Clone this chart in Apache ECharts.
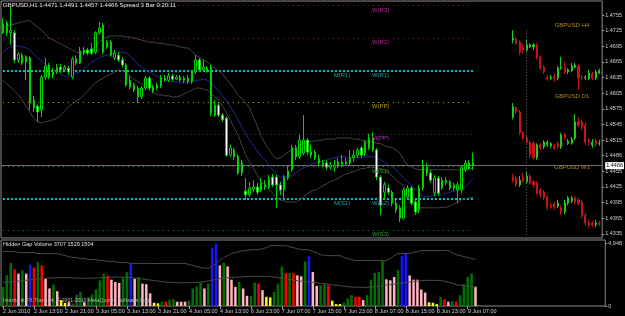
<!DOCTYPE html>
<html><head><meta charset="utf-8">
<script src="https://cdn.jsdelivr.net/npm/echarts@6/dist/echarts.min.js"></script>
<style>html,body{margin:0;padding:0;background:#000;}#c{width:625px;height:316px;}</style>
</head><body><div id="c"></div>
<script>
const symbol = 'GBPUSD';
const tickLabels = ['2 Jun 2010','2 Jun 13:00','2 Jun 21:00','3 Jun 05:00','3 Jun 13:00','3 Jun 21:00','4 Jun 05:00','4 Jun 13:00','6 Jun 23:00','7 Jun 07:00','7 Jun 15:00','7 Jun 23:00','8 Jun 07:00','8 Jun 15:00','8 Jun 23:00','9 Jun 07:00'];
const priceTicks = [1.4755,1.4725,1.4695,1.4665,1.4635,1.4605,1.4575,1.4545,1.4515,1.4486,1.4455,1.4425,1.4395,1.4365,1.4335];
const volumeTicks = [0, 4948];

const open = [1.4738,1.4740,1.4721,1.4721,1.4669,1.4678,1.4665,1.4673,1.4592,1.4580,
1.4573,1.4636,1.4659,1.4640,1.4646,1.4655,1.4650,1.4653,1.4636,1.4671,
1.4663,1.4682,1.4688,1.4690,1.4684,1.4721,1.4736,1.4694,1.4703,1.4673,
1.4678,1.4669,1.4659,1.4630,1.4621,1.4615,1.4598,1.4615,1.4634,1.4617,
1.4615,1.4619,1.4634,1.4630,1.4638,1.4632,1.4636,1.4630,1.4634,1.4627,
1.4646,1.4669,1.4650,1.4648,1.4655,1.4563,1.4582,1.4563,1.4557,1.4486,
1.4496,1.4484,1.4452,1.4417,1.4410,1.4421,1.4425,1.4419,1.4429,1.4425,
1.4444,1.4444,1.4429,1.4419,1.4442,1.4458,1.4500,1.4483,1.4490,1.4515,
1.4492,1.4492,1.4479,1.4467,1.4471,1.4463,1.4463,1.4467,1.4473,1.4473,
1.4471,1.4481,1.4486,1.4500,1.4490,1.4500,1.4519,1.4496,1.4444,1.4415,
1.4423,1.4415,1.4394,1.4385,1.4365,1.4406,1.4423,1.4396,1.4381,1.4423,
1.4463,1.4452,1.4413,1.4442,1.4423,1.4433,1.4435,1.4429,1.4419,1.4419,
1.4458,1.4461,1.4471];
const close = [1.4721,1.4721,1.4726,1.4669,1.4680,1.4663,1.4675,1.4586,1.4577,1.4569,
1.4636,1.4657,1.4636,1.4646,1.4655,1.4650,1.4655,1.4646,1.4671,1.4663,
1.4686,1.4688,1.4682,1.4682,1.4721,1.4730,1.4684,1.4703,1.4678,1.4682,
1.4669,1.4659,1.4621,1.4617,1.4611,1.4598,1.4615,1.4634,1.4615,1.4609,
1.4621,1.4634,1.4630,1.4638,1.4632,1.4636,1.4630,1.4634,1.4627,1.4646,
1.4669,1.4650,1.4655,1.4653,1.4567,1.4582,1.4563,1.4554,1.4486,1.4500,
1.4483,1.4452,1.4471,1.4410,1.4423,1.4425,1.4415,1.4433,1.4425,1.4442,
1.4429,1.4429,1.4419,1.4444,1.4456,1.4500,1.4483,1.4515,1.4515,1.4492,
1.4486,1.4481,1.4471,1.4471,1.4463,1.4467,1.4467,1.4473,1.4469,1.4469,
1.4481,1.4486,1.4496,1.4486,1.4511,1.4519,1.4496,1.4444,1.4390,1.4429,
1.4415,1.4394,1.4381,1.4365,1.4419,1.4423,1.4394,1.4377,1.4423,1.4467,
1.4452,1.4438,1.4442,1.4413,1.4438,1.4438,1.4423,1.4423,1.4429,1.4463,
1.4471,1.4471,1.4466];
const low = [1.4719,1.4715,1.4698,1.4663,1.4663,1.4659,1.4630,1.4573,1.4569,1.4550,
1.4559,1.4630,1.4632,1.4634,1.4642,1.4644,1.4646,1.4640,1.4632,1.4659,
1.4661,1.4678,1.4678,1.4678,1.4680,1.4717,1.4680,1.4690,1.4675,1.4669,
1.4665,1.4655,1.4617,1.4613,1.4607,1.4586,1.4594,1.4611,1.4611,1.4605,
1.4611,1.4615,1.4627,1.4627,1.4628,1.4630,1.4627,1.4625,1.4623,1.4623,
1.4642,1.4646,1.4646,1.4644,1.4561,1.4559,1.4559,1.4550,1.4483,1.4483,
1.4477,1.4448,1.4446,1.4400,1.4406,1.4415,1.4410,1.4415,1.4419,1.4421,
1.4425,1.4385,1.4410,1.4400,1.4438,1.4454,1.4477,1.4479,1.4486,1.4486,
1.4481,1.4477,1.4465,1.4463,1.4458,1.4458,1.4454,1.4461,1.4463,1.4465,
1.4467,1.4473,1.4481,1.4481,1.4484,1.4496,1.4492,1.4438,1.4371,1.4400,
1.4410,1.4388,1.4375,1.4358,1.4362,1.4400,1.4390,1.4371,1.4375,1.4419,
1.4446,1.4433,1.4408,1.4408,1.4419,1.4429,1.4419,1.4417,1.4394,1.4413,
1.4454,1.4458,1.4457];
const high = [1.4749,1.4744,1.4771,1.4726,1.4684,1.4682,1.4678,1.4676,1.4600,1.4584,
1.4640,1.4673,1.4663,1.4653,1.4661,1.4661,1.4659,1.4657,1.4675,1.4678,
1.4694,1.4694,1.4692,1.4701,1.4724,1.4742,1.4740,1.4707,1.4707,1.4688,
1.4684,1.4675,1.4663,1.4638,1.4625,1.4619,1.4619,1.4638,1.4638,1.4621,
1.4625,1.4640,1.4640,1.4644,1.4642,1.4640,1.4640,1.4638,1.4640,1.4650,
1.4678,1.4673,1.4669,1.4657,1.4659,1.4592,1.4586,1.4567,1.4561,1.4506,
1.4500,1.4488,1.4477,1.4442,1.4435,1.4438,1.4433,1.4442,1.4438,1.4448,
1.4450,1.4448,1.4435,1.4448,1.4467,1.4506,1.4506,1.4525,1.4563,1.4519,
1.4506,1.4496,1.4486,1.4477,1.4477,1.4473,1.4477,1.4481,1.4486,1.4481,
1.4496,1.4496,1.4500,1.4504,1.4515,1.4527,1.4531,1.4500,1.4448,1.4435,
1.4429,1.4419,1.4400,1.4390,1.4423,1.4429,1.4427,1.4400,1.4429,1.4477,
1.4471,1.4458,1.4448,1.4446,1.4444,1.4444,1.4438,1.4433,1.4435,1.4467,
1.4477,1.4477,1.4491];

const bandUpper = [1.4730,1.4734,1.4736,1.4738,1.4740,1.4742,1.4744,1.4744,1.4738,1.4732,
1.4726,1.4719,1.4711,1.4707,1.4703,1.4700,1.4696,1.4692,1.4688,1.4684,
1.4682,1.4682,1.4684,1.4688,1.4696,1.4703,1.4709,1.4713,1.4715,1.4715,
1.4715,1.4715,1.4713,1.4713,1.4711,1.4709,1.4707,1.4705,1.4703,1.4703,
1.4701,1.4701,1.4700,1.4698,1.4698,1.4696,1.4694,1.4692,1.4692,1.4686,
1.4678,1.4673,1.4669,1.4665,1.4659,1.4653,1.4648,1.4642,1.4632,1.4623,
1.4613,1.4602,1.4594,1.4586,1.4577,1.4559,1.4542,1.4523,1.4509,1.4498,
1.4486,1.4479,1.4481,1.4486,1.4492,1.4496,1.4500,1.4504,1.4508,1.4511,
1.4513,1.4513,1.4515,1.4515,1.4517,1.4517,1.4517,1.4519,1.4519,1.4519,
1.4519,1.4517,1.4517,1.4515,1.4513,1.4513,1.4511,1.4509,1.4508,1.4504,
1.4502,1.4500,1.4496,1.4490,1.4477,1.4467,1.4463,1.4460,1.4458,1.4458,
1.4458,1.4458,1.4458,1.4458,1.4458,1.4458,1.4458,1.4458,1.4458,1.4458,
1.4458,1.4460,1.4461];
const bandMiddle = [1.4684,1.4690,1.4694,1.4696,1.4696,1.4694,1.4692,1.4688,1.4680,1.4673,
1.4667,1.4661,1.4655,1.4650,1.4646,1.4642,1.4638,1.4636,1.4640,1.4644,
1.4646,1.4652,1.4659,1.4665,1.4669,1.4673,1.4676,1.4678,1.4680,1.4682,
1.4684,1.4684,1.4682,1.4676,1.4669,1.4661,1.4655,1.4650,1.4646,1.4642,
1.4638,1.4634,1.4632,1.4628,1.4627,1.4627,1.4625,1.4625,1.4627,1.4628,
1.4630,1.4630,1.4632,1.4630,1.4625,1.4617,1.4609,1.4600,1.4590,1.4580,
1.4567,1.4554,1.4540,1.4527,1.4515,1.4504,1.4494,1.4484,1.4477,1.4467,
1.4458,1.4450,1.4444,1.4444,1.4446,1.4448,1.4452,1.4458,1.4461,1.4465,
1.4469,1.4471,1.4473,1.4475,1.4477,1.4479,1.4481,1.4483,1.4483,1.4483,
1.4481,1.4481,1.4481,1.4481,1.4483,1.4483,1.4483,1.4481,1.4477,1.4473,
1.4467,1.4463,1.4458,1.4450,1.4442,1.4435,1.4427,1.4421,1.4415,1.4406,
1.4406,1.4408,1.4408,1.4410,1.4410,1.4413,1.4415,1.4417,1.4419,1.4423,
1.4425,1.4433,1.4442];
const bandLower = [1.4630,1.4623,1.4617,1.4609,1.4602,1.4592,1.4580,1.4569,1.4557,1.4550,
1.4548,1.4550,1.4552,1.4554,1.4557,1.4563,1.4571,1.4579,1.4584,1.4590,
1.4594,1.4602,1.4609,1.4617,1.4625,1.4630,1.4634,1.4638,1.4642,1.4646,
1.4650,1.4648,1.4644,1.4638,1.4632,1.4627,1.4623,1.4617,1.4611,1.4607,
1.4602,1.4602,1.4600,1.4600,1.4598,1.4598,1.4600,1.4604,1.4607,1.4611,
1.4615,1.4615,1.4613,1.4611,1.4605,1.4598,1.4592,1.4580,1.4567,1.4554,
1.4538,1.4525,1.4506,1.4486,1.4473,1.4461,1.4448,1.4436,1.4429,1.4421,
1.4413,1.4406,1.4400,1.4398,1.4396,1.4396,1.4396,1.4400,1.4406,1.4412,
1.4417,1.4419,1.4423,1.4427,1.4431,1.4435,1.4438,1.4442,1.4446,1.4450,
1.4452,1.4454,1.4458,1.4460,1.4461,1.4463,1.4463,1.4461,1.4460,1.4458,
1.4454,1.4446,1.4438,1.4433,1.4427,1.4408,1.4394,1.4385,1.4385,1.4385,
1.4385,1.4385,1.4385,1.4385,1.4386,1.4386,1.4388,1.4392,1.4396,1.4400,
1.4402,1.4404,1.4406];

const volume = [1500,2430,3430,2900,2570,2830,2570,3270,3040,3480,
3220,2170,1390,1700,1180,470,250,300,200,900,
1120,300,700,900,1310,2040,2570,2430,2090,1910,
1830,2300,2690,3400,2170,2300,1780,1730,1000,260,
210,340,340,470,530,340,340,340,420,1390,
1570,1860,1390,1780,4610,4948,3220,3430,3140,2090,
1520,1910,1390,810,810,1860,1780,1260,730,680,
1120,1730,3140,2620,2620,2620,2430,2360,3530,3950,
2700,1600,1650,1730,1650,420,150,150,260,600,
860,730,730,470,860,2090,2620,2700,3560,2120,
2040,2300,2830,3950,4240,2430,2090,2090,1310,1070,
290,260,150,730,530,340,390,340,860,1730,
2300,2570,1529];
const volumeType = ['g','g','g','r','p','g','p','b','r','g',
'r','p','p','g','p','y','y','p','g','g',
'g','p','g','g','g','g','g','r','p','p',
'p','g','g','b','p','g','p','p','p','y',
'y','g','r','g','g','p','p','p','g','g',
'g','g','p','g','b','b','p','g','p','p',
'p','g','p','p','g','g','r','p','y','y',
'g','g','g','r','g','r','p','p','g','b',
'p','p','g','g','r','y','y','y','g','g',
'g','r','r','p','g','g','g','g','g','p',
'p','p','g','b','b','p','p','p','p','p',
'y','y','y','g','r','p','g','r','g','g',
'g','g','p'];
const volumeUpper = [4320,4320,4320,4320,4240,4240,4240,4240,4240,4160,
4160,4160,4160,4160,4160,4080,4000,3930,3850,3850,
3770,3770,3690,3690,3690,3610,3610,3530,3530,3530,
3450,3450,3450,3380,3380,3380,3380,3380,3380,3380,
3380,3380,3380,3380,3380,3380,3380,3380,3300,3220,
3140,3060,3020,2980,3140,3380,3610,3850,4000,4160,
4240,4320,4400,4400,4470,4470,4470,4550,4630,4790,
4790,4790,4790,4790,4710,4630,4550,4470,4470,4470,
4320,4240,4080,4000,4000,4000,4000,4000,3850,3770,
3690,3610,3610,3610,3610,3610,3610,3610,3610,3610,
3770,4000,4160,4160,4160,4160,4240,4320,4400,4400,
4400,4400,4400,4400,4400,4400,4240,4080,4000,3930,
3850,3780,3707];
const volumeLower = [1880,1900,1920,1950,1980,2010,2040,2080,2120,2150,
2180,2200,2220,2230,2240,2250,2250,2240,2230,2220,
2210,2200,2200,2210,2220,2240,2260,2280,2290,2300,
2300,2290,2270,2240,2210,2180,2140,2100,2060,2020,
1980,1940,1900,1880,1860,1850,1840,1840,1850,1860,
1880,1900,1940,1990,2050,2110,2170,2210,2240,2260,
2280,2300,2320,2340,2350,2360,2360,2360,2350,2330,
2300,2260,2210,2160,2110,2060,2010,1970,1940,1910,
1880,1850,1810,1770,1730,1690,1650,1610,1570,1540,
1510,1490,1480,1480,1490,1510,1540,1580,1620,1660,
1700,1740,1780,1820,1860,1900,1940,1980,2010,2030,
2040,2040,2030,2010,1980,1900,1800,1700,1650,1600,
1570,1540,1504];

const levelNames = ['W(R3)','W(R2)','W(R1)','W(PP)','M(PP)','W(S1)','W(S2)','W(S3)'];
const levelValues = [1.4773,1.4711,1.4648,1.4588,1.4527,1.4464,1.4402,1.4342];
const monthNames = ['M(R1)','M(S1)'];
const monthValues = [1.4648,1.4402];
const bidPrice = 1.4466;

const h4Open = [1.4707,1.4709,1.4703,1.4692,1.4688,1.4694,1.4694,1.4698,1.4675,1.4655,1.4636,1.4634,1.4636,1.4634,1.4653,1.4655,1.4646,1.4648,1.4655,1.4657,1.4636,1.4634,1.4634,1.4642,1.4634,1.4644];
const h4Close = [1.4711,1.4701,1.4684,1.4688,1.4698,1.4698,1.4698,1.4673,1.4653,1.4646,1.4632,1.4636,1.4634,1.4653,1.4655,1.4646,1.4650,1.4657,1.4659,1.4634,1.4634,1.4636,1.4644,1.4634,1.4646,1.4648];
const h4Low = [1.4701,1.4698,1.4678,1.4682,1.4684,1.4692,1.4688,1.4669,1.4650,1.4642,1.4628,1.4630,1.4627,1.4630,1.4650,1.4642,1.4642,1.4646,1.4653,1.4611,1.4630,1.4630,1.4630,1.4630,1.4630,1.4642];
const h4High = [1.4726,1.4713,1.4707,1.4700,1.4707,1.4701,1.4701,1.4701,1.4678,1.4659,1.4640,1.4640,1.4642,1.4657,1.4675,1.4665,1.4653,1.4663,1.4663,1.4661,1.4640,1.4640,1.4650,1.4646,1.4650,1.4652];
const d1Open = [1.4559,1.4577,1.4569,1.4529,1.4519,1.4511,1.4509,1.4481,1.4506,1.4502,1.4506,1.4504,1.4504,1.4509,1.4502,1.4525,1.4509,1.4509,1.4519,1.4550,1.4550,1.4544,1.4515,1.4506,1.4513,1.4508];
const d1Close = [1.4579,1.4569,1.4529,1.4519,1.4511,1.4486,1.4481,1.4506,1.4500,1.4511,1.4511,1.4508,1.4500,1.4502,1.4525,1.4519,1.4513,1.4517,1.4550,1.4544,1.4540,1.4511,1.4511,1.4511,1.4508,1.4509];
const d1Low = [1.4555,1.4565,1.4525,1.4515,1.4508,1.4481,1.4477,1.4477,1.4496,1.4498,1.4502,1.4500,1.4496,1.4498,1.4498,1.4515,1.4506,1.4506,1.4515,1.4540,1.4534,1.4506,1.4504,1.4500,1.4502,1.4504];
const d1High = [1.4586,1.4580,1.4573,1.4532,1.4523,1.4515,1.4513,1.4509,1.4509,1.4515,1.4515,1.4511,1.4508,1.4513,1.4529,1.4529,1.4517,1.4521,1.4565,1.4559,1.4554,1.4550,1.4519,1.4517,1.4519,1.4515];
const w1Open = [1.4444,1.4442,1.4429,1.4444,1.4435,1.4446,1.4435,1.4433,1.4419,1.4415,1.4406,1.4390,1.4392,1.4388,1.4385,1.4377,1.4394,1.4398,1.4404,1.4400,1.4396,1.4371,1.4356,1.4356,1.4352,1.4356];
const w1Close = [1.4438,1.4429,1.4438,1.4436,1.4446,1.4433,1.4429,1.4413,1.4410,1.4404,1.4386,1.4386,1.4386,1.4394,1.4377,1.4394,1.4404,1.4404,1.4396,1.4394,1.4371,1.4356,1.4352,1.4352,1.4356,1.4354];
const w1Low = [1.4433,1.4425,1.4425,1.4433,1.4431,1.4429,1.4423,1.4410,1.4404,1.4400,1.4381,1.4383,1.4381,1.4385,1.4371,1.4373,1.4390,1.4394,1.4392,1.4390,1.4365,1.4350,1.4346,1.4348,1.4348,1.4350];
const w1High = [1.4450,1.4446,1.4446,1.4452,1.4454,1.4450,1.4438,1.4436,1.4423,1.4419,1.4410,1.4394,1.4396,1.4400,1.4390,1.4400,1.4408,1.4408,1.4408,1.4404,1.4400,1.4375,1.4362,1.4360,1.4362,1.4360];
const miniTitles = ['GBPUSD H4','GBPUSD D1','GBPUSD W1'];

// ---- build ----
const categories = [];
{ let d = 2, h = 5;
  for (let i = 0; i < 156; i++) {
    categories.push(d + ' Jun ' + String(h).padStart(2,'0') + ':00');
    h++; if (h === 24) { h = 0; d++; }
    if (d === 4 && h === 21) { d = 6; h = 23; }
  } }
const miniCats = h4Open.map((_, i) => 'm' + i);
const zip = (o,c,l,h) => o.map((v,i) => [v, c[i], l[i], h[i]]);
const last = open.length - 1;
const FONT = 'Liberation Sans';
const volColors = { g:'#007000', r:'#ff0000', p:'#ffb6c1', b:'#1515ff', y:'#ffff00' };
const levelStyle = [
  {c:'#8b2252', w:1, t:[1,4], lc:'#b0308a'},
  {c:'#8b1a6a', w:1, t:[1,4], lc:'#b0308a'},
  {c:'#00c8c8', w:2, t:[2,2], lc:'#28a0a0'},
  {c:'#a8a000', w:1, t:[1,4], lc:'#b0a020'},
  {c:'#8a008a', w:1, t:[1,3], lc:'#c030c0'},
  {c:'#2e8b2e', w:1, t:[1,4], lc:'#30a030'},
  {c:'#00c8c8', w:2, t:[2,2], lc:'#28a0a0'},
  {c:'#1f8b1f', w:1, t:[1,4], lc:'#30a030'}
];
const yMin = 1.43270, yMax = 1.47821;

const pivotLines = levelValues.map((v, i) => [
  {coord:[categories[0], v], lineStyle:{color:levelStyle[i].c, width:levelStyle[i].w, type:levelStyle[i].t}},
  {coord:[categories[last], v]}
]);
const pivotLabels = levelValues.map((v, i) => ({
  coord:[categories[98], v], label:{formatter:levelNames[i], color:levelStyle[i].lc}
})).concat(monthValues.map((v, i) => ({
  coord:[categories[88], v], label:{formatter:monthNames[i], color:'#28a0a0'}
})));

const labelIdx = (i) => i % 8 === 0 && i / 8 < tickLabels.length;
const fmt4 = (v) => v.toFixed(4);
const candleStyle = { color:'#000000', color0:'#ffffff', borderColor:'#00d400', borderColor0:'#00d400', borderWidth:1 };
const miniStyle = { color:'#20cc20', color0:'#c81414', borderColor:'#20cc20', borderColor0:'#c81414', borderWidth:1 };

const chart = echarts.init(document.getElementById('c'), null, {renderer:'canvas'});
chart.setOption({
  animation: false,
  backgroundColor: '#000000',
  textStyle: { fontFamily: FONT },
  title: [
    { text: `${symbol},H1 ${fmt4(open[last])} ${fmt4(high[last])} ${fmt4(low[last])} ${fmt4(close[last])} Spread 3 Bar 0:20:11`,
      left: 3, top: 2, padding: 0, textStyle: { color:'#e8e8e8', fontSize:6, fontWeight:'normal', fontFamily: FONT } },
    { text: `Hidden Gap Volume ${volumeUpper[last]} ${volume[last]} ${volumeLower[last]}`,
      left: 3, top: 241, padding: 0, textStyle: { color:'#e0e0e0', fontSize:5.5, fontWeight:'normal', fontFamily: FONT } }
  ],
  graphic: [
    { type:'text', left: 3, top: 298, silent:true, z: 100,
      style:{ text:'Interbank FX Trader 4, \u00a9 2001-2010 MetaQuotes Software Corp.', fill:'#b8b8b8', font:'5.2px "Liberation Sans"' } }
  ].concat(miniTitles.map((t, i) => ({
    type:'text', x: 572, y: [25, 96, 167][i], silent:true,
    style:{ text:t, fill:'#b08a20', font:'6px "Liberation Sans"', textAlign:'center', textVerticalAlign:'middle' }
  }))),
  grid: [
    { left:1, top:1, width:605, height:237, show:true, borderColor:'#8a8a8a', borderWidth:1, backgroundColor:'transparent' },
    { left:1, top:240, width:605, height:66, show:true, borderColor:'#8a8a8a', borderWidth:1, backgroundColor:'transparent' },
    { left:511, top:1, width:90, height:237, show:false }
  ],
  xAxis: [
    { gridIndex:0, type:'category', data:categories, boundaryGap:true,
      axisLine:{show:false}, axisTick:{show:false}, axisLabel:{show:false}, splitLine:{show:false} },
    { gridIndex:1, type:'category', data:categories, boundaryGap:true,
      axisLine:{show:false},
      axisTick:{show:true, alignWithLabel:true, interval:(i)=>labelIdx(i), length:3, lineStyle:{color:'#a0a0a0'}},
      axisLabel:{show:true, interval:(i)=>labelIdx(i), formatter:(v, i)=>labelIdx(i) ? tickLabels[i/8] : '',
        align:'left', color:'#cfcfcf', fontSize:5.5, margin:2, fontFamily: FONT},
      splitLine:{show:false} },
    { gridIndex:2, type:'category', data:miniCats, boundaryGap:true, show:false }
  ],
  yAxis: [
    { gridIndex:0, type:'value', position:'right', min:yMin, max:yMax,
      axisLine:{show:false}, splitLine:{show:false},
      axisTick:{show:true, customValues:priceTicks, length:2, lineStyle:{color:'#a0a0a0'}},
      axisLabel:{show:true, customValues:priceTicks, formatter:fmt4, color:'#d0d0d0', fontSize:5.5, margin:3, fontFamily: FONT} },
    { gridIndex:1, type:'value', position:'right', min:0, max:5240,
      axisLine:{show:false}, splitLine:{show:false},
      axisTick:{show:true, customValues:volumeTicks, length:2, lineStyle:{color:'#a0a0a0'}},
      axisLabel:{show:true, customValues:volumeTicks, color:'#d0d0d0', fontSize:5.5, margin:3, fontFamily: FONT} },
    { gridIndex:2, type:'value', min:yMin, max:yMax, show:false }
  ],
  series: [
    { type:'line', xAxisIndex:0, yAxisIndex:0, data:bandUpper, symbol:'none', z:1,
      lineStyle:{color:'#444444', width:1} },
    { type:'line', xAxisIndex:0, yAxisIndex:0, data:bandLower, symbol:'none', z:1,
      lineStyle:{color:'#444444', width:1} },
    { type:'line', xAxisIndex:0, yAxisIndex:0, data:bandMiddle, symbol:'none', z:1,
      lineStyle:{color:'#1e2a96', width:1},
      markLine:{ silent:true, precision:4, symbol:['none','none'], label:{show:false}, z:0,
        data: pivotLines.concat([
          { yAxis: bidPrice, lineStyle:{color:'#6e6e6e', type:'solid', width:1},
            label:{show:true, position:'end', formatter: fmt4(bidPrice), backgroundColor:'#ffffff', color:'#000000',
              fontSize:5.5, padding:[1,1,0,1], distance:3, fontFamily: FONT} }
        ]) },
      markPoint:{ silent:true, symbol:'circle', symbolSize:1, itemStyle:{color:'rgba(0,0,0,0)'},
        label:{show:true, position:'bottom', distance:1, fontSize:6, fontFamily: FONT},
        data: pivotLabels } },
    { type:'candlestick', xAxisIndex:0, yAxisIndex:0, data: zip(open, close, low, high), z:3,
      barWidth: 2, itemStyle: candleStyle },
    { type:'bar', xAxisIndex:1, yAxisIndex:1, data: volume, barWidth: 2.5,
      itemStyle:{ color:(p)=>volColors[volumeType[p.dataIndex]] } },
    { type:'line', xAxisIndex:1, yAxisIndex:1, data: volumeUpper, symbol:'none', z:3,
      lineStyle:{color:'#4a4a4a', width:1} },
    { type:'line', xAxisIndex:1, yAxisIndex:1, data: volumeLower, symbol:'none', z:3,
      lineStyle:{color:'#4a4a4a', width:1} },
    { type:'candlestick', xAxisIndex:2, yAxisIndex:2, data: zip(h4Open, h4Close, h4Low, h4High), barWidth: 1.6,
      itemStyle: miniStyle,
      markLine:{ silent:true, precision:4, symbol:['none','none'], label:{show:false},
        data:[[ {coord:[miniCats[4], 1.4726], lineStyle:{color:'#707070', type:[1,2], width:1}}, {coord:[miniCats[4], 1.4329]} ]] } },
    { type:'candlestick', xAxisIndex:2, yAxisIndex:2, data: zip(d1Open, d1Close, d1Low, d1High), barWidth: 1.6,
      itemStyle: miniStyle },
    { type:'candlestick', xAxisIndex:2, yAxisIndex:2, data: zip(w1Open, w1Close, w1Low, w1High), barWidth: 1.6,
      itemStyle: miniStyle }
  ]
});
</script></body></html>
